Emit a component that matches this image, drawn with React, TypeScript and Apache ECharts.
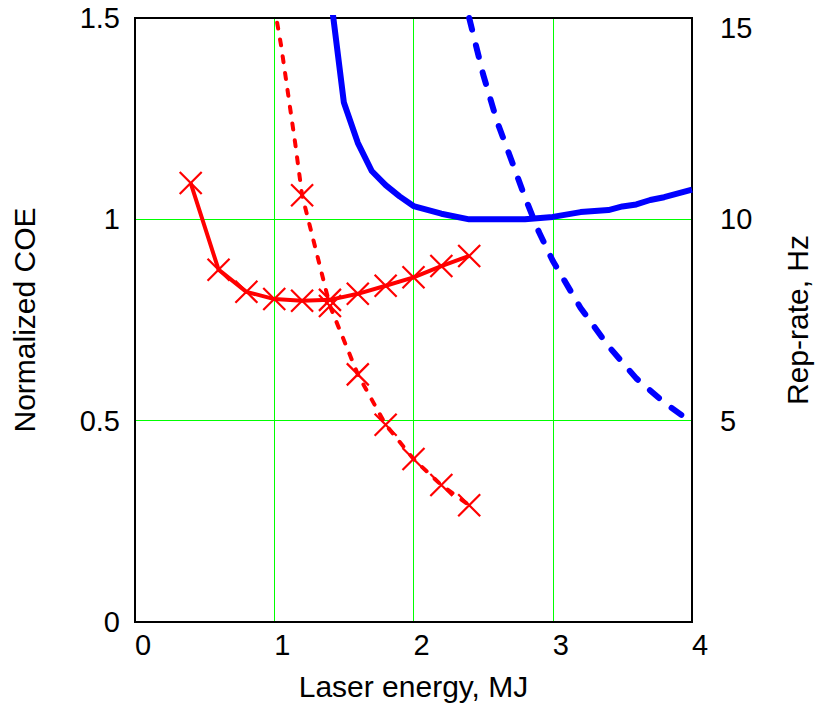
import React, { useEffect, useRef } from "react";
import * as echarts from "echarts";

// ---- data ----
const energyTicks = [0, 1, 2, 3, 4];

// red solid: normalized COE (left axis), marked points
const redCoeEnergy = [0.4, 0.6, 0.8, 1.0, 1.2, 1.4, 1.6, 1.8, 2.0, 2.2, 2.4];
const redCoeValue = [1.09, 0.875, 0.82, 0.802, 0.798, 0.8, 0.815, 0.835, 0.856, 0.884, 0.909];

// red dashed: rep-rate (right axis); upper part without markers, then marked points
const redRepUpperEnergy = [1.0, 1.05, 1.1, 1.15];
const redRepUpperValue = [15.3, 14.3, 13.1, 11.9];
const redRepEnergy = [1.2, 1.4, 1.6, 1.8, 2.0, 2.2, 2.4];
const redRepValue = [10.6, 7.85, 6.15, 4.9, 4.05, 3.4, 2.9];

// blue solid: normalized COE (left axis)
const blueCoeEnergy = [1.4, 1.5, 1.6, 1.7, 1.8, 1.9, 2.0, 2.2, 2.4, 2.6, 2.8, 3.0, 3.2, 3.4, 3.5, 3.6, 3.7, 3.8, 4.0];
const blueCoeValue = [1.568, 1.29, 1.19, 1.12, 1.085, 1.057, 1.033, 1.014, 1.0, 1.0, 1.0, 1.006, 1.018, 1.023, 1.032, 1.037, 1.048, 1.055, 1.074];

// blue dashed: rep-rate (right axis)
const blueRepEnergy = [2.4, 2.5, 2.6, 2.7, 2.8, 2.9, 3.0, 3.2, 3.4, 3.6, 3.8, 4.0];
const blueRepValue = [15.0, 13.6, 12.43, 11.5, 10.55, 9.69, 8.97, 7.8, 6.85, 6.05, 5.45, 4.95];

const FONT = "Liberation Sans, Arial, Helvetica, sans-serif";
const RED = "#ff0000";
const BLUE = "#0000ff";
const GREEN = "#00ff00";
const CROSS = "path://M0 0L10 10M10 0L0 10";

function pairs(xs: number[], ys: number[]) {
  return xs.map((x, i) => [x, ys[i]]);
}

export default function App() {
  const ref = useRef<HTMLDivElement>(null);

  useEffect(() => {
    if (!ref.current) return;
    const chart = echarts.init(ref.current, null, { renderer: "svg" });

    const markerStyle = { color: RED, borderColor: RED, borderWidth: 2.2 };

    const redRepData = [
      ...pairs(redRepUpperEnergy, redRepUpperValue).map((v) => ({ value: v, symbol: "none" })),
      ...pairs(redRepEnergy, redRepValue).map((v) => ({ value: v })),
    ];

    chart.setOption({
      animation: false,
      backgroundColor: "#fff",
      textStyle: { fontFamily: FONT },
      grid: {
        left: 135,
        right: 124,
        top: 18,
        bottom: 88,
        show: true,
        borderColor: "#000",
        borderWidth: 2,
        backgroundColor: "transparent",
        containLabel: false,
        outerBoundsMode: "none",
        z: 1,
      },
      xAxis: {
        type: "value",
        min: energyTicks[0],
        max: energyTicks[energyTicks.length - 1],
        interval: 1,
        name: "Laser energy, MJ",
        nameLocation: "middle",
        nameGap: 49,
        nameTextStyle: { fontSize: 30, color: "#000", fontFamily: FONT },
        axisLine: { show: true, lineStyle: { color: "#000", width: 2 } },
        axisTick: { show: false },
        axisLabel: {
          fontSize: 29,
          color: "#000",
          fontFamily: FONT,
          align: "left",
          margin: 8,
          showMinLabel: true,
          showMaxLabel: true,
        },
        splitLine: { show: true, showMinLine: false, showMaxLine: false, lineStyle: { color: GREEN, width: 1 } },
      },
      yAxis: [
        {
          type: "value",
          min: 0,
          max: 1.5,
          interval: 0.5,
          position: "left",
          name: "Normalized COE",
          nameLocation: "middle",
          nameGap: 96,
          nameTextStyle: { fontSize: 30, color: "#000", fontFamily: FONT },
          axisLine: { show: true, lineStyle: { color: "#000", width: 2 } },
          axisTick: { show: false },
          axisLabel: {
            fontSize: 29,
            color: "#000",
            fontFamily: FONT,
            margin: 15,
            padding: [8, 0, 0, 0],
            showMinLabel: true,
            showMaxLabel: true,
          },
          splitLine: { show: true, showMinLine: false, showMaxLine: false, lineStyle: { color: GREEN, width: 1 } },
        },
        {
          type: "value",
          min: 0,
          max: 15,
          interval: 5,
          position: "right",
          name: "Rep-rate, Hz",
          nameLocation: "middle",
          nameGap: 90,
          nameTextStyle: { fontSize: 30, color: "#000", fontFamily: FONT },
          axisLine: { show: true, lineStyle: { color: "#000", width: 2 } },
          axisTick: { show: false },
          axisLabel: {
            fontSize: 29,
            color: "#000",
            fontFamily: FONT,
            margin: 28,
            showMinLabel: true,
            showMaxLabel: true,
            formatter: (v: number) => (v === 0 ? "" : v === 15 ? "{top|15}" : String(v)),
            rich: {
              top: { fontSize: 29, color: "#000", fontFamily: FONT, padding: [20, 0, 0, 0] },
            },
          },
          splitLine: { show: false },
        },
      ],
      series: [
        {
          type: "line",
          name: "COE red",
          xAxisIndex: 0,
          yAxisIndex: 0,
          data: pairs(redCoeEnergy, redCoeValue),
          symbol: CROSS,
          symbolSize: 22,
          itemStyle: markerStyle,
          lineStyle: { color: RED, width: 4 },
          emphasis: { disabled: true },
          z: 3,
        },
        {
          type: "line",
          name: "Rep red",
          xAxisIndex: 0,
          yAxisIndex: 1,
          data: redRepData,
          symbol: CROSS,
          symbolSize: 22,
          itemStyle: markerStyle,
          lineStyle: { color: RED, width: 4, type: [6, 11], cap: "round" },
          emphasis: { disabled: true },
          z: 3,
        },
        {
          type: "line",
          name: "COE blue",
          xAxisIndex: 0,
          yAxisIndex: 0,
          data: pairs(blueCoeEnergy, blueCoeValue),
          symbol: "none",
          lineStyle: { color: BLUE, width: 6, join: "round" },
          itemStyle: { color: BLUE },
          emphasis: { disabled: true },
          z: 2,
        },
        {
          type: "line",
          name: "Rep blue",
          xAxisIndex: 0,
          yAxisIndex: 1,
          data: pairs(blueRepEnergy, blueRepValue),
          symbol: "none",
          lineStyle: { color: BLUE, width: 6, type: [12, 16], cap: "round" },
          itemStyle: { color: BLUE },
          emphasis: { disabled: true },
          z: 2,
        },
      ],
    });

    return () => chart.dispose();
  }, []);

  return <div ref={ref} style={{ width: 816, height: 710, position: "absolute", left: 0, top: 0 }} />;
}
